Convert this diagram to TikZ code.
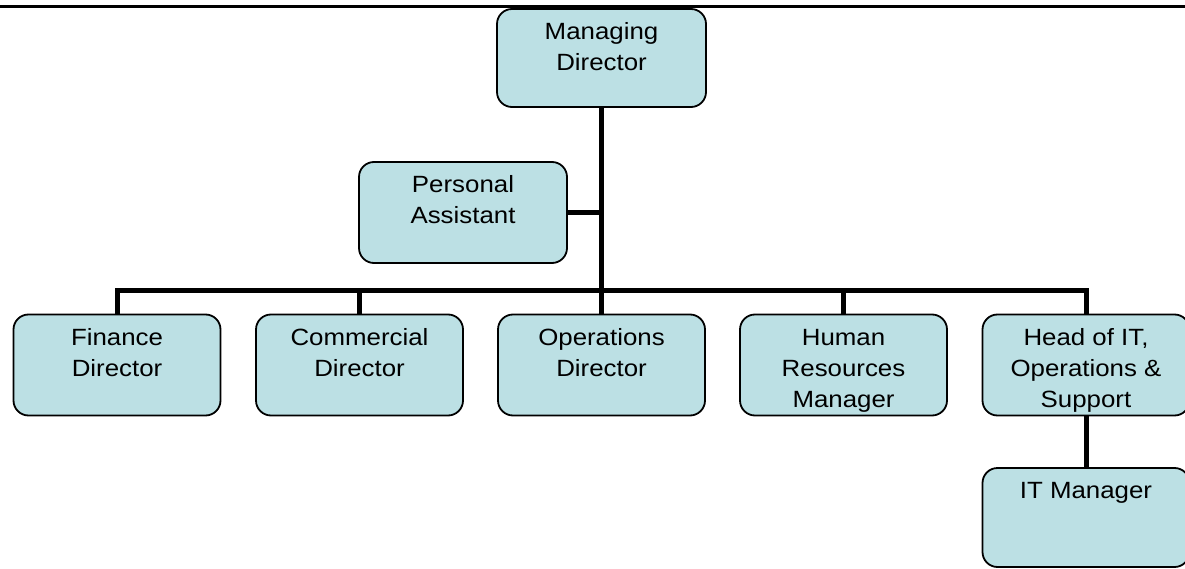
\documentclass[tikz,border=0pt]{standalone}
\usepackage{fontspec}
\newfontfamily\boxfont{Liberation Sans}[FakeStretch=1.1]
\definecolor{boxfill}{RGB}{188,224,228}
\begin{document}
\begin{tikzpicture}[x=1pt,y=-1pt,
  box/.style={draw=black, line width=1.8pt, rounded corners=15pt, fill=boxfill,
              minimum width=207pt, minimum height=101pt, inner sep=0pt},
  lbl/.style={anchor=north, inner sep=0pt, align=center,
              font=\boxfont\fontsize{23.5}{31}\selectfont, yshift=-9.5pt},
  conn/.style={line width=5pt, draw=black},
  rule/.style={line width=2.2pt, draw=black}]
\useasboundingbox (0,0) rectangle (1185,569);
\clip (0,0) rectangle (1185,569);
\fill[white] (0,0) rectangle (1185,569);
\draw[rule] (0,6.5) -- (1185,6.5);
% boxes
\node[box, minimum width=209pt, minimum height=98pt] (md) at (601.5,58) {};
\node[box, minimum width=208pt] (pa) at (463,212.5) {};
\node[box] (fin)  at (117,365) {};
\node[box] (comm) at (359.5,365) {};
\node[box] (ops)  at (601.5,365) {};
\node[box] (hr)   at (843.5,365) {};
\node[box] (hit)  at (1086,365) {};
\node[box, minimum height=99pt] (itm) at (1086,517.5) {};
\coordinate (j) at (601.5,290);
% connectors
\draw[conn] (md.south) -- (ops.north);
\draw[conn] (pa.east) -- (pa.east -| j);
\draw[conn] (fin.north) |- (j) -| (hit.north);
\draw[conn] (comm.north) -- (comm.north |- j);
\draw[conn] (hr.north) -- (hr.north |- j);
\draw[conn] (hit.south) -- (itm.north);
% labels
\node[lbl] (mdt)   at (md.north)   {\strut Managing\\Director};
\node[lbl] (pat)   at (pa.north)   {\strut Personal\\Assistant};
\node[lbl] (fint)  at (fin.north)  {\strut Finance\\Director};
\node[lbl] (commt) at (comm.north) {\strut Commercial\\Director};
\node[lbl] (opst)  at (ops.north)  {\strut Operations\\Director};
\node[lbl] (hrt)   at (hr.north)   {\strut Human\\Resources\\Manager};
\node[lbl] (hitt)  at (hit.north)  {\strut Head of IT,\\Operations \&\\Support};
\node[lbl] (itmt)  at (itm.north)  {\strut IT Manager};
\end{tikzpicture}
\end{document}
